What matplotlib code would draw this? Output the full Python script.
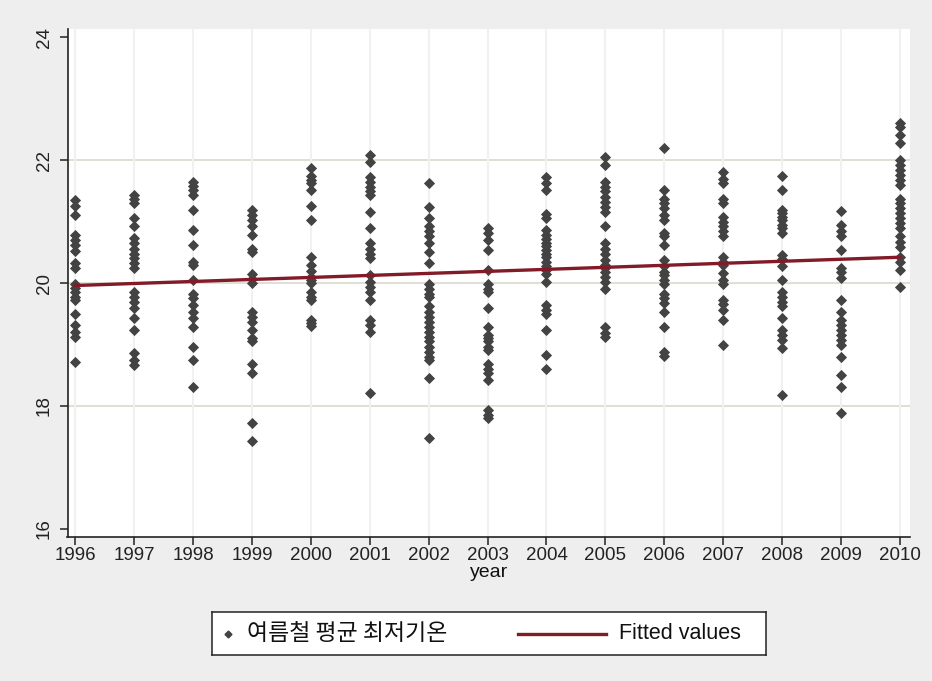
import numpy as np
import matplotlib.pyplot as plt

plt.rcParams['font.family'] = ['Liberation Sans', 'Noto Sans CJK KR']

# 연도별 여름철 평균 최저기온 (관측소별)
years = list(range(1996, 2011))
tmin_1996 = [21.35, 21.25, 21.1, 20.78, 20.7, 20.62, 20.52, 20.32, 20.25, 19.98, 19.92, 19.85, 19.78, 19.72, 19.5, 19.32, 19.2, 19.12, 18.72]
tmin_1997 = [21.43, 21.37, 21.3, 21.05, 20.92, 20.73, 20.65, 20.56, 20.48, 20.4, 20.32, 20.24, 19.86, 19.78, 19.7, 19.59, 19.43, 19.24, 18.86, 18.75, 18.67]
tmin_1998 = [21.65, 21.58, 21.51, 21.43, 21.19, 20.86, 20.62, 20.35, 20.29, 20.05, 19.83, 19.75, 19.64, 19.53, 19.43, 19.29, 18.96, 18.75, 18.31]
tmin_1999 = [21.19, 21.11, 21.02, 20.92, 20.78, 20.56, 20.51, 20.14, 20.07, 20.0, 19.53, 19.45, 19.37, 19.24, 19.1, 19.05, 18.68, 18.53, 17.72, 17.43]
tmin_2000 = [21.87, 21.74, 21.68, 21.62, 21.52, 21.25, 21.02, 20.42, 20.3, 20.2, 20.1, 20.05, 20.0, 19.85, 19.78, 19.72, 19.4, 19.35, 19.3]
tmin_2001 = [22.08, 21.97, 21.73, 21.65, 21.57, 21.49, 21.43, 21.16, 20.89, 20.65, 20.56, 20.48, 20.4, 20.13, 20.02, 19.94, 19.86, 19.72, 19.4, 19.32, 19.21, 18.22]
tmin_2002 = [21.62, 21.24, 21.05, 20.92, 20.84, 20.76, 20.65, 20.51, 20.32, 19.99, 19.91, 19.83, 19.78, 19.62, 19.53, 19.45, 19.37, 19.29, 19.21, 19.13, 19.05, 18.96, 18.88, 18.8, 18.75, 18.45, 17.48]
tmin_2003 = [20.89, 20.81, 20.7, 20.54, 20.21, 19.99, 19.91, 19.86, 19.59, 19.29, 19.15, 19.1, 19.05, 18.96, 18.91, 18.69, 18.61, 18.53, 18.42, 17.94, 17.86, 17.8]
tmin_2004 = [21.73, 21.62, 21.52, 21.12, 21.05, 20.86, 20.78, 20.71, 20.65, 20.6, 20.54, 20.48, 20.42, 20.35, 20.28, 20.22, 20.15, 20.02, 19.64, 19.56, 19.5, 19.23, 18.83, 18.6]
tmin_2005 = [22.05, 21.92, 21.65, 21.57, 21.49, 21.4, 21.32, 21.24, 21.16, 20.92, 20.65, 20.56, 20.48, 20.37, 20.29, 20.24, 20.18, 20.1, 20.02, 19.91, 19.29, 19.18, 19.12]
tmin_2006 = [22.19, 21.51, 21.37, 21.3, 21.22, 21.11, 21.02, 20.81, 20.76, 20.62, 20.37, 20.27, 20.18, 20.13, 20.05, 19.99, 19.83, 19.75, 19.67, 19.53, 19.29, 18.88, 18.81]
tmin_2007 = [21.81, 21.7, 21.62, 21.37, 21.3, 21.08, 21.0, 20.92, 20.84, 20.76, 20.43, 20.35, 20.29, 20.16, 20.05, 19.99, 19.72, 19.66, 19.56, 19.4, 18.99]
tmin_2008 = [21.74, 21.51, 21.19, 21.14, 21.08, 21.02, 20.95, 20.89, 20.81, 20.46, 20.39, 20.27, 20.05, 19.86, 19.78, 19.7, 19.62, 19.43, 19.24, 19.15, 19.07, 18.94, 18.18]
tmin_2009 = [21.17, 20.95, 20.84, 20.76, 20.54, 20.24, 20.18, 20.09, 19.72, 19.53, 19.4, 19.32, 19.24, 19.15, 19.07, 18.99, 18.8, 18.5, 18.31, 17.88]
tmin_2010 = [22.6, 22.54, 22.41, 22.27, 22.0, 21.92, 21.84, 21.76, 21.67, 21.59, 21.37, 21.3, 21.22, 21.14, 21.05, 20.98, 20.89, 20.76, 20.67, 20.59, 20.43, 20.35, 20.21, 19.94]

tmin_all = [tmin_1996, tmin_1997, tmin_1998, tmin_1999, tmin_2000, tmin_2001, tmin_2002,
            tmin_2003, tmin_2004, tmin_2005, tmin_2006, tmin_2007, tmin_2008, tmin_2009, tmin_2010]

# 선형 추세선 (Fitted values)
fit_years = [1996, 2010]
fit_values = [19.96, 20.42]

y_ticks = [16, 18, 20, 22, 24]
grid_y = [18, 20, 22]

point_color = '#434343'
line_color = '#821a28'

W, H = 932, 681
fig = plt.figure(figsize=(W / 100, H / 100), dpi=100, facecolor='#eeeeee')
ax = fig.add_axes([67.5 / W, 1 - 537 / H, (910 - 67.5) / W, (537 - 28.5) / H])
ax.set_facecolor('white')

for g in grid_y:
    ax.axhline(g, color='#d6d6c6', lw=1.1, zorder=0)
for yr in years:
    ax.axvline(yr, color='#f1f1f1', lw=1.5, zorder=0)

for yr, vals in zip(years, tmin_all):
    ax.plot([yr] * len(vals), vals, ls='none', marker='D', ms=5.2,
            color=point_color, mec=point_color, mew=0.6, zorder=3)

ax.plot(fit_years, fit_values, color=line_color, lw=2.4, zorder=4)

ax.set_xlim(1995.87, 2010.17)
ax.set_ylim(15.87, 24.14)
ax.set_xticks(years)
ax.set_yticks(y_ticks)

for s in ['top', 'right']:
    ax.spines[s].set_visible(False)
for s in ['left', 'bottom']:
    ax.spines[s].set_color('#222222')
    ax.spines[s].set_linewidth(1.2)

ax.tick_params(direction='out', length=5.5, width=1.1, colors='#222222', labelsize=13.5)
ax.tick_params(axis='x', pad=2)
ax.tick_params(axis='y', pad=5)
for lab in ax.get_yticklabels():
    lab.set_rotation(90)
    lab.set_va('center')
ax.set_xlabel('year', fontsize=14, labelpad=0, color='#111111')

# 범례
lg = fig.add_axes([212 / W, 1 - 655 / H, (766 - 212) / W, 43 / H])
lg.set_xlim(212, 766)
lg.set_ylim(0, 1)
lg.set_xticks([])
lg.set_yticks([])
for s in lg.spines.values():
    s.set_color('#222222')
    s.set_linewidth(1.1)
lg.plot([228], [0.5], ls='none', marker='D', ms=3.5, color=point_color)
lg.text(247, 0.5, '여름철 평균 최저기온', va='center', fontsize=16.5,
        family=['Noto Sans CJK KR', 'DejaVu Sans'], color='#111111')
lg.plot([518, 606], [0.5, 0.5], color=line_color, lw=2.4)
lg.text(619, 0.5, 'Fitted values', va='center', fontsize=15.5, color='#111111')

fig.savefig('out.png', dpi=100, facecolor=fig.get_facecolor())
